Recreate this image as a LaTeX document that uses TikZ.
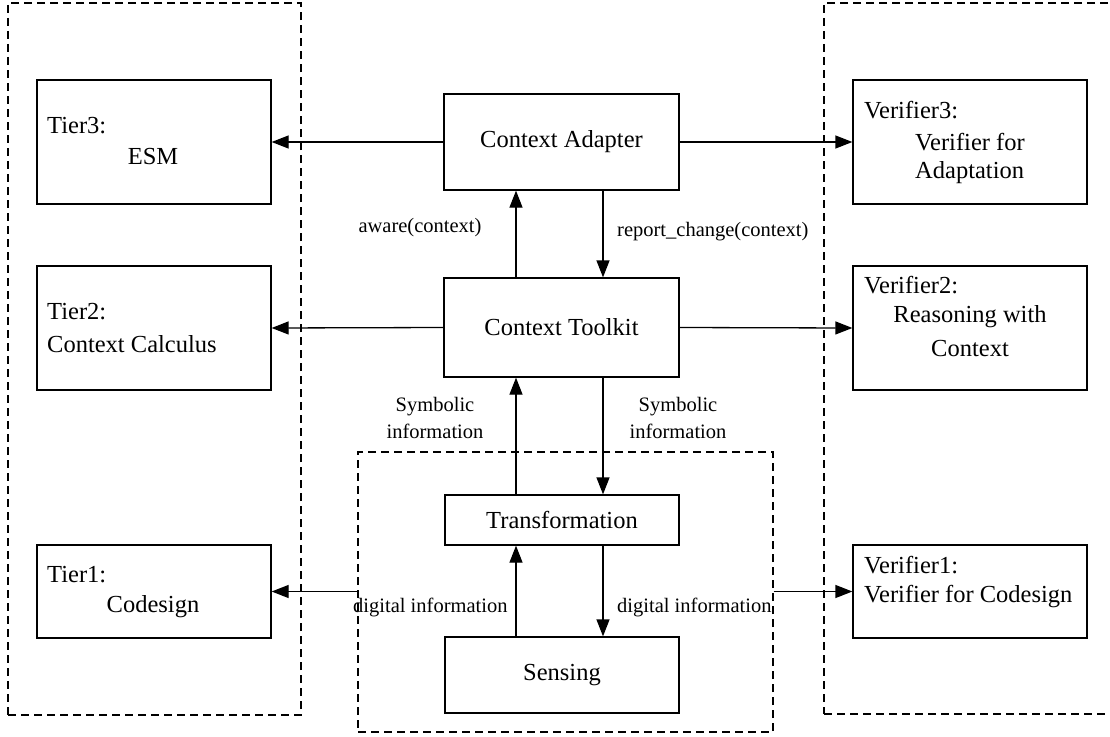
\documentclass[tikz,border=0pt]{standalone}
\usepackage{fontspec}
\setmainfont{Liberation Serif}
\usetikzlibrary{arrows.meta}
\begin{document}
\begin{tikzpicture}[x=1pt,y=-1pt,
  box/.style={draw,line width=1.3pt,minimum width=#1,inner sep=0pt},
  grp/.style={draw,dashed,dash pattern=on 8pt off 5pt,line width=1.2pt,inner sep=0pt},
  arr/.style={line width=1.3pt,-{Triangle[length=17pt,width=13pt]}},
  big/.style={font=\fontsize{24.5}{28}\selectfont,inner sep=0pt},
  small/.style={font=\fontsize{20.5}{27}\selectfont,inner sep=0pt,align=center}]
\useasboundingbox (0,0) rectangle (1110,736);
\fill[white] (0,0) rectangle (1110,736);
\begin{scope}
\clip (0,0) rectangle (1110,736);
% groups
\node[grp,minimum width=293pt,minimum height=712pt] (lgrp) at (154.5,359) {};
\node[grp,minimum width=300pt,minimum height=711pt] (rgrp) at (974,358.5) {};
\node[grp,minimum width=415pt,minimum height=280pt] (cgrp) at (565.5,592) {};
\end{scope}
% left boxes
\node[box=234pt,minimum height=124pt] (tier3) at (154,142) {};
\node[box=234pt,minimum height=124pt] (tier2) at (154,328) {};
\node[box=234pt,minimum height=93pt] (tier1) at (154,591.5) {};
% right boxes
\node[box=234pt,minimum height=124pt] (ver3) at (970,142) {};
\node[box=234pt,minimum height=124pt] (ver2) at (970,328) {};
\node[box=234pt,minimum height=93pt] (ver1) at (970,591.5) {};
% center boxes
\node[box=235pt,minimum height=96pt,big] (adapter) at (561.5,142) {Context Adapter};
\node[box=235pt,minimum height=99pt,big] (toolkit) at (561.5,327.5) {Context Toolkit};
\node[box=234pt,minimum height=50pt,big] (transf) at (562,520) {Transformation};
\node[box=234pt,minimum height=76pt,big] (sensing) at (562,675) {Sensing};
% texts in left boxes
\node[big,anchor=west] (t3a) at (47,126) {Tier3:};
\node[big] (t3b) at (153,157) {ESM};
\node[big,anchor=west] (t2a) at (47,312) {Tier2:};
\node[big,anchor=west] (t2b) at (47,344) {Context Calculus};
\node[big,anchor=west] (t1a) at (47,575) {Tier1:};
\node[big] (t1b) at (153,607) {Codesign};
% texts in right boxes
\node[big,anchor=west] (v3a) at (864,110) {Verifier3:};
\node[big,anchor=west] (v3b) at (915,142) {Verifier for};
\node[big,anchor=west] (v3c) at (915,173) {Adaptation};
\node[big,anchor=west] (v2a) at (864,285) {Verifier2:};
\node[big] (v2b) at (970,317) {Reasoning with};
\node[big] (v2c) at (970,349) {Context};
\node[big,anchor=west] (v1a) at (864,565) {Verifier1:};
\node[big,anchor=west] (v1b) at (864,597) {Verifier for Codesign};
% horizontal arrows
\draw[arr] (adapter.west) -- (tier3.east);
\draw[arr] (toolkit.west) -- (tier2.east);
\draw[arr] (cgrp.west |- tier1.east) -- (tier1.east);
\draw[arr] (adapter.east) -- (ver3.west);
\draw[arr] (toolkit.east) -- (ver2.west);
\draw[arr] (cgrp.east |- ver1.west) -- (ver1.west);
% vertical arrows
\draw[arr] ([xshift=-45.5pt]toolkit.north) -- ([xshift=-45.5pt]adapter.south);
\draw[arr] ([xshift=41.5pt]adapter.south) -- ([xshift=41.5pt]toolkit.north);
\draw[arr] ([xshift=-46pt]transf.north) -- ([xshift=-45.5pt]toolkit.south);
\draw[arr] ([xshift=41.5pt]toolkit.south) -- ([xshift=41pt]transf.north);
\draw[arr] ([xshift=-46pt]sensing.north) -- ([xshift=-46pt]transf.south);
\draw[arr] ([xshift=41pt]transf.south) -- ([xshift=41pt]sensing.north);
% labels
\node[small] (l1) at (420,228) {aware(context)};
\node[small,anchor=west] (l2) at (617,232) {report\_change(context)};
\node[small] (l3) at (435,418) {Symbolic\\information};
\node[small] (l4) at (678,418) {Symbolic\\information};
\node[small,anchor=west] (l5) at (353,607) {digital information};
\node[small,anchor=west] (l6) at (617,607) {digital information};
\end{tikzpicture}
\end{document}
